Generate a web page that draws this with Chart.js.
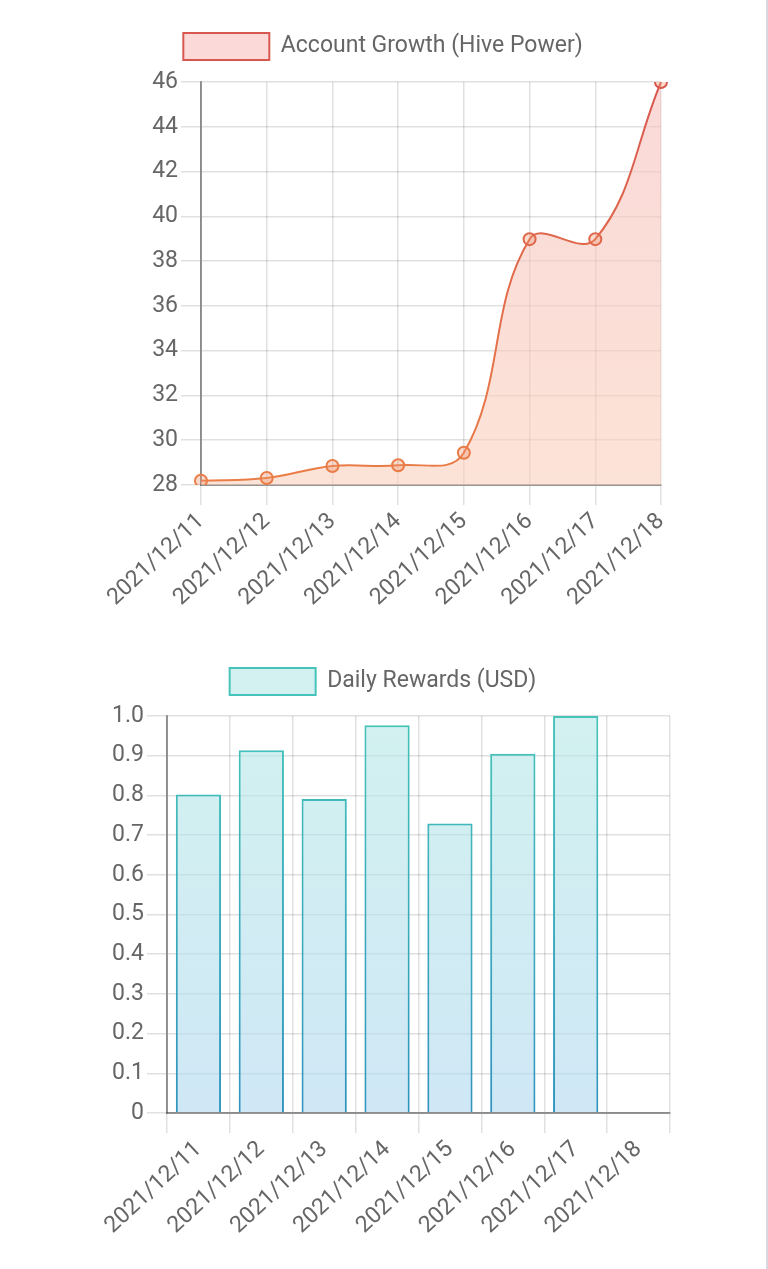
<!DOCTYPE html>
<html>
<head>
<meta charset="utf-8">
<script src="https://cdn.jsdelivr.net/npm/chart.js@4"></script>
<style>
  html, body { margin: 0; padding: 0; background: #fff; }
  body { width: 766px; height: 1269px; border-right: 2px solid #d8d8e0; overflow: hidden; }
  .box { position: relative; width: 766px; }
  #growthBox { height: 630px; }
  #rewardsBox { height: 639px; }
</style>
</head>
<body>
<div class="box" id="growthBox"><canvas id="growthChart"></canvas></div>
<div class="box" id="rewardsBox"><canvas id="rewardsChart"></canvas></div>
<script>
// data
const dates = ['2021/12/11', '2021/12/12', '2021/12/13', '2021/12/14', '2021/12/15', '2021/12/16', '2021/12/17', '2021/12/18'];
const hivePower = [28.19, 28.31, 28.85, 28.88, 29.44, 38.98, 38.98, 46.0];
const rewardsUsd = [0.802, 0.914, 0.791, 0.977, 0.729, 0.905, 1.0, null];

const hpMin = 28, hpMax = 46, hpStep = 2;
const usdMin = 0, usdMax = 1, usdStep = 0.1;

const textColor = '#666';
const gridColor = 'rgba(0,0,0,0.12)';
const axisColor = 'rgba(0,0,0,0.38)';
const tickSize = 23;

Chart.defaults.font.family = 'Roboto, "Noto Sans", sans-serif';
Chart.defaults.color = textColor;

// extra room under the legend (chart.js v4 keeps it tight)
const legendGap = {
  id: 'legendGap',
  beforeUpdate(chart, args, opts) {
    const lg = chart.legend;
    if (!lg || lg._gapPatched) return;
    const fit = lg.fit;
    lg.fit = function () { fit.call(this); this.height += opts.extra || 0; };
    lg._gapPatched = true;
  }
};

function vGradient(c, top, bottom, fallback) {
  const { ctx, chartArea } = c.chart;
  if (!chartArea) return fallback;
  const g = ctx.createLinearGradient(0, chartArea.top, 0, chartArea.bottom);
  g.addColorStop(0, top);
  g.addColorStop(1, bottom);
  return g;
}

// fixed axis sizes so the plot areas land where the screenshot has them
function xAxis(height) {
  return {
    grid: { color: gridColor, lineWidth: 1.5, tickLength: 20, tickColor: gridColor },
    border: { color: axisColor, width: 2 },
    ticks: { color: textColor, font: { size: tickSize }, minRotation: 43, maxRotation: 43, padding: 3 },
    afterFit: s => { s.height = height; }
  };
}

function yAxis(width, extra) {
  return Object.assign({
    grid: { color: gridColor, lineWidth: 1.5, tickLength: 20, tickColor: gridColor },
    border: { color: axisColor, width: 2 },
    afterFit: s => { s.width = width; }
  }, extra);
}

function legend(pad) {
  return { labels: { boxWidth: 86, boxHeight: 27, font: { size: 23 }, color: textColor, padding: pad } };
}

new Chart(document.getElementById('growthChart'), {
  type: 'line',
  data: {
    labels: dates,
    datasets: [{
      label: 'Account Growth (Hive Power)',
      data: hivePower,
      tension: 0.4,
      fill: 'start',
      borderWidth: 2,
      pointRadius: 6,
      pointBorderWidth: 2,
      borderColor: c => vGradient(c, 'rgb(216,88,80)', 'rgb(234,126,70)', 'rgb(228,110,75)'),
      backgroundColor: c => vGradient(c, 'rgba(247,192,190,0.6)', 'rgba(250,208,188,0.6)', 'rgba(248,198,186,0.6)'),
      pointBorderColor: c => vGradient(c, 'rgb(216,88,80)', 'rgb(234,126,70)', 'rgb(228,110,75)'),
      pointBackgroundColor: 'rgba(240,150,110,0.35)'
    }]
  },
  plugins: [legendGap],
  options: {
    responsive: true,
    maintainAspectRatio: false,
    animation: false,
    layout: { padding: { top: 12, left: 105, right: 105, bottom: 0 } },
    plugins: { legend: legend(21), legendGap: { extra: 12 }, tooltip: { enabled: false } },
    scales: {
      x: xAxis(145),
      y: yAxis(96, { min: hpMin, max: hpMax, ticks: { color: textColor, font: { size: tickSize }, stepSize: hpStep, padding: 3 } })
    }
  }
});

new Chart(document.getElementById('rewardsChart'), {
  type: 'bar',
  data: {
    labels: dates,
    datasets: [{
      label: 'Daily Rewards (USD)',
      data: rewardsUsd,
      borderWidth: 2,
      borderColor: c => vGradient(c, 'rgb(70,196,186)', 'rgb(48,148,190)', 'rgb(60,175,188)'),
      backgroundColor: c => vGradient(c, 'rgba(180,232,230,0.6)', 'rgba(176,216,240,0.6)', 'rgba(180,226,235,0.6)')
    }]
  },
  plugins: [legendGap],
  options: {
    responsive: true,
    maintainAspectRatio: false,
    animation: false,
    layout: { padding: { top: 18, left: 96, right: 96, bottom: 0 } },
    plugins: { legend: legend(20), legendGap: { extra: 11 }, tooltip: { enabled: false } },
    scales: {
      x: xAxis(156),
      y: yAxis(71, {
        min: usdMin, max: usdMax,
        ticks: {
          color: textColor, font: { size: tickSize }, stepSize: usdStep, padding: 3,
          callback: v => v === 0 ? '0' : v.toFixed(1)
        }
      })
    }
  }
});
</script>
</body>
</html>
